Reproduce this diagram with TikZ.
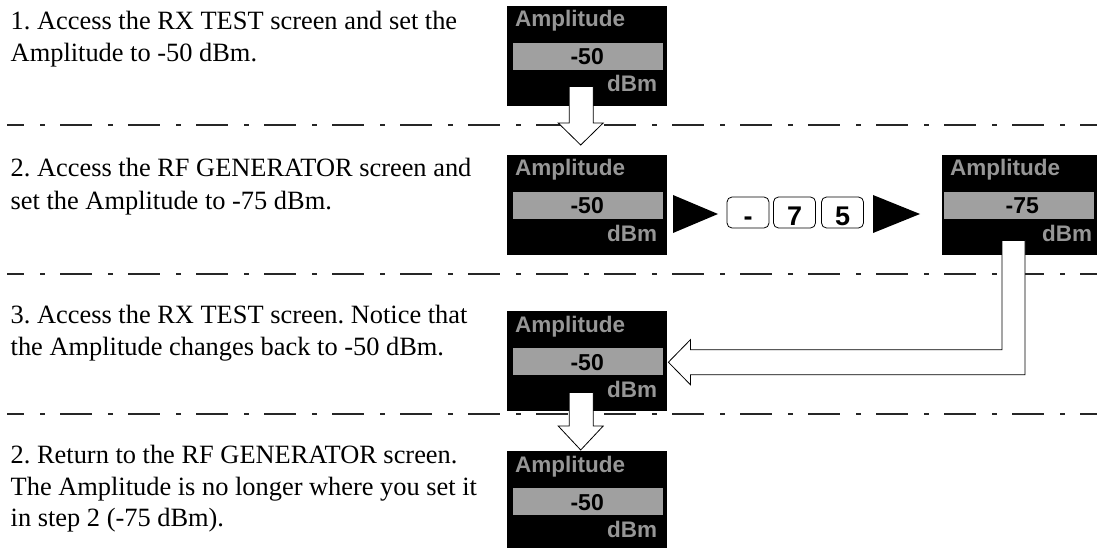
\documentclass[tikz,border=0pt]{standalone}
\usepackage{fontspec}
\setmainfont{Liberation Serif}
\newfontfamily\dispfont{Liberation Sans}
\usetikzlibrary{calc}
\definecolor{bandgray}{RGB}{160,160,160}
\definecolor{lblgray}{RGB}{150,150,150}
\frenchspacing
\tikzset{
  stepline/.style={inner sep=0pt, anchor=base west, font=\fontsize{26.4}{31.5}\selectfont},
  dispbox/.style={fill=black, draw=none, minimum width=160pt, minimum height=100pt, inner sep=0pt, anchor=north west},
  band/.style={fill=bandgray, draw=none, minimum width=150pt, minimum height=27pt, inner sep=0pt, anchor=north west},
  lbl/.style={text=lblgray, font=\dispfont\bfseries\fontsize{22.5}{22.5}\selectfont, inner sep=0pt},
  val/.style={text=black, font=\dispfont\bfseries\fontsize{23}{23}\selectfont, inner sep=0pt, anchor=base},
  sepline/.style={line width=1.2pt, black!85, dash pattern=on 32pt off 16pt on 5pt off 15pt, dash phase=15pt},
  blockarrow/.style={draw=black, fill=white, line width=0.8pt, line join=miter},
  keycap/.style={draw=black, line width=0.8pt, rounded corners=5pt, minimum width=42pt, minimum height=31pt, inner sep=0pt, text height=25.3pt, text depth=0pt, font=\dispfont\bfseries\fontsize{27}{27}\selectfont},
  tri/.style={fill=black}
}
\newcommand{\ampdisplay}[5]{%
  \node[dispbox] (#1) at (#2,#3) {};
  \node[band] (#1-band) at ($(#1.north west)+(#5,37)$) {};
  \node[lbl, anchor=base west] (#1-lbl) at ($(#1.north west)+(8,21)$) {Amplitude};
  \node[val] (#1-val) at ($(#1.north)+(0,59)$) {#4};
  \node[lbl, anchor=base east] (#1-unit) at ($(#1.north east)+(-10,86)$) {dBm};
}
\begin{document}
\begin{tikzpicture}[x=1pt,y=-1pt]
\useasboundingbox (0,0) rectangle (1097,548);

% separators
\coordinate (d1l) at (7,125);   \coordinate (d1r) at (1097,125);
\coordinate (d2l) at (7,274);   \coordinate (d2r) at (1097,274);
\coordinate (d3l) at (7,414);   \coordinate (d3r) at (1097,414);
\draw[sepline] (d1l) -- (d1r);
\draw[sepline] (d2l) -- (d2r);
\draw[sepline] (d3l) -- (d3r);

% step texts
\node[stepline] (s1a) at (10.5,30)  {1. Access the RX TEST screen and set the};
\node[stepline] (s1b) at (10.5,62)  {Amplitude to -50 dBm.};
\node[stepline] (s2a) at (10.5,177) {2. Access the RF GENERATOR screen and};
\node[stepline] (s2b) at (10.5,209) {set the Amplitude to -75 dBm.};
\node[stepline] (s3a) at (10.5,323) {3. Access the RX TEST screen. Notice that};
\node[stepline] (s3b) at (10.5,355) {the Amplitude changes back to -50 dBm.};
\node[stepline] (s4a) at (10.5,463) {2. Return to the RF GENERATOR screen.};
\node[stepline] (s4b) at (10.5,495) {The Amplitude is no longer where you set it};
\node[stepline] (s4c) at (10.5,526) {in step 2 (-75 dBm).};

% displays
\ampdisplay{box1}{507}{6}{-50}{6}
\ampdisplay{box2}{507}{155}{-50}{6}
\ampdisplay{box3}{942}{155}{-75}{1.5}
\ampdisplay{box4}{507}{311}{-50}{6}
\ampdisplay{box5}{507}{451}{-50}{6}

% key entry
\fill[tri] (673,195) -- (718,214) -- (673,233) -- cycle;
\node[keycap] (k1) at (748,212.5) {-};
\node[keycap] (k2) at (794.5,212.5) {7};
\node[keycap] (k3) at (842.5,212.5) {5};
\fill[tri] (873,195) -- (920,214) -- (873,233) -- cycle;

% arrow box1 -> box2
\coordinate (a1s) at ($(box1.south)+(-6,-20)$);
\coordinate (a1t) at ($(box2.north)+(-6.5,-10)$);
\draw[blockarrow] ($(a1s)+(-12,0)$) -- ($(a1s)+(12,0)$) -- ($(a1s|-a1t)+(12,-22)$) -- ($(a1t)+(22.5,-22)$) -- (a1t) -- ($(a1t)+(-22.5,-22)$) -- ($(a1s|-a1t)+(-12,-22)$) -- cycle;

% arrow box4 -> box5
\coordinate (a2s) at ($(box4.south)+(-6,-19)$);
\coordinate (a2t) at ($(box5.north)+(-6.5,-1)$);
\draw[blockarrow] ($(a2s)+(-12,0)$) -- ($(a2s)+(12,0)$) -- ($(a2s|-a2t)+(12,-24)$) -- ($(a2t)+(22.5,-24)$) -- (a2t) -- ($(a2t)+(-22.5,-24)$) -- ($(a2s|-a2t)+(-12,-24)$) -- cycle;

% L arrow box3 -> box4
\coordinate (l1) at ($(box3.south west)+(71.5,-15)$);
\coordinate (l2) at ($(box4.east)+(1,1)$);
\coordinate (lc) at (l1 |- l2);
\draw[blockarrow] ($(l1)+(-11.5,0)$) -- ($(l1)+(11.5,0)$) -- ($(lc)+(11.5,12.5)$) -- ($(l2)+(22,12.5)$) -- ($(l2)+(22,22.5)$) -- (l2) -- ($(l2)+(22,-22.5)$) -- ($(l2)+(22,-12.5)$) -- ($(lc)+(-11.5,-12.5)$) -- cycle;
\end{tikzpicture}
\end{document}
